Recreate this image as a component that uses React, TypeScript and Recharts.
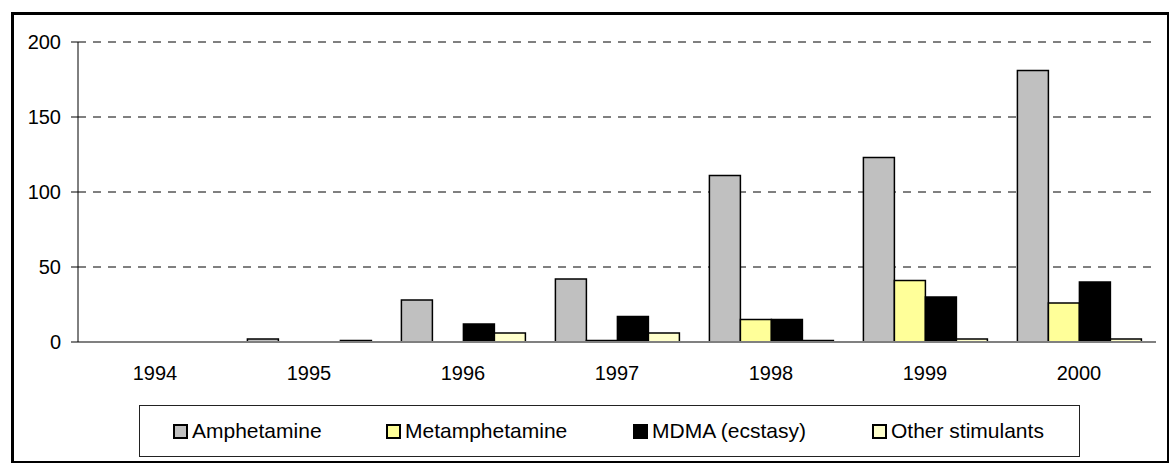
import React from 'react';
import { BarChart, Bar, XAxis, YAxis, CartesianGrid } from 'recharts';

const years = ['1994', '1995', '1996', '1997', '1998', '1999', '2000'];
const amphetamine = [0, 2, 28, 42, 111, 123, 181];
const metamphetamine = [0, 0, 0, 1, 15, 41, 26];
const mdma = [0, 0, 12, 17, 15, 30, 40];
const otherStimulants = [0, 1, 6, 6, 1, 2, 2];
const yTicks = [0, 50, 100, 150, 200];

const seriesNames = ['Amphetamine', 'Metamphetamine', 'MDMA (ecstasy)', 'Other stimulants'];
const seriesColors = ['#C0C0C0', '#FFFF99', '#000000', '#FFFFCC'];
const seriesKeys = ['amph', 'meth', 'mdma', 'other'];

const data = years.map((y, i) => ({
  year: y,
  amph: amphetamine[i],
  meth: metamphetamine[i],
  mdma: mdma[i],
  other: otherStimulants[i],
}));

const FONT = 'Arial, "Liberation Sans", sans-serif';
const legendOffsets = [33, 246, 493, 732];

export default function App() {
  return (
    <div style={{ position: 'absolute', left: 0, top: 0, width: 1170, height: 464, background: '#fff', fontFamily: FONT, overflow: 'hidden' }}>
      <div style={{ position: 'absolute', left: 11, top: 12, width: 1169 - 11, height: 463 - 12, border: '3px solid #000', borderRightWidth: 2, borderBottomWidth: 2, boxSizing: 'border-box' }} />
      <div style={{ position: 'absolute', left: 0, top: 0 }}>
        <BarChart
          width={1170}
          height={400}
          data={data}
          margin={{ top: 42, right: 14, bottom: 28, left: 0 }}
          barCategoryGap="10%"
          barGap={0}
        >
          <CartesianGrid vertical={false} stroke="#000" strokeDasharray="8 7" strokeWidth={1} />
          <XAxis
            dataKey="year"
            axisLine={{ stroke: '#808080', strokeWidth: 2 }}
            tickLine={false}
            tickSize={6}
            tick={{ fill: '#000', fontSize: 20, fontFamily: FONT }}
            tickMargin={18}
            height={30}
          />
          <YAxis
            domain={[0, 200]}
            ticks={yTicks}
            width={78}
            axisLine={{ stroke: '#000' }}
            tickLine={{ stroke: '#000' }}
            tickSize={7}
            tick={{ fill: '#000', fontSize: 20, fontFamily: FONT }}
            tickMargin={10}
          />
          {seriesKeys.map((k, i) => (
            <Bar key={k} dataKey={k} name={seriesNames[i]} fill={seriesColors[i]} stroke="#000" strokeWidth={1.5} isAnimationActive={false} />
          ))}
        </BarChart>
      </div>
      <div style={{ position: 'absolute', left: 139, top: 405, width: 941, height: 52, border: '1px solid #222', boxSizing: 'border-box' }}>
        {seriesNames.map((n, i) => (
          <div key={n} style={{ position: 'absolute', left: legendOffsets[i], top: 0, height: 50, display: 'flex', alignItems: 'center', fontSize: 21, whiteSpace: 'nowrap' }}>
            <span style={{ display: 'inline-block', width: 11, height: 11, border: '2px solid #000', background: seriesColors[i], marginRight: 4 }} />
            <span>{n}</span>
          </div>
        ))}
      </div>
    </div>
  );
}
